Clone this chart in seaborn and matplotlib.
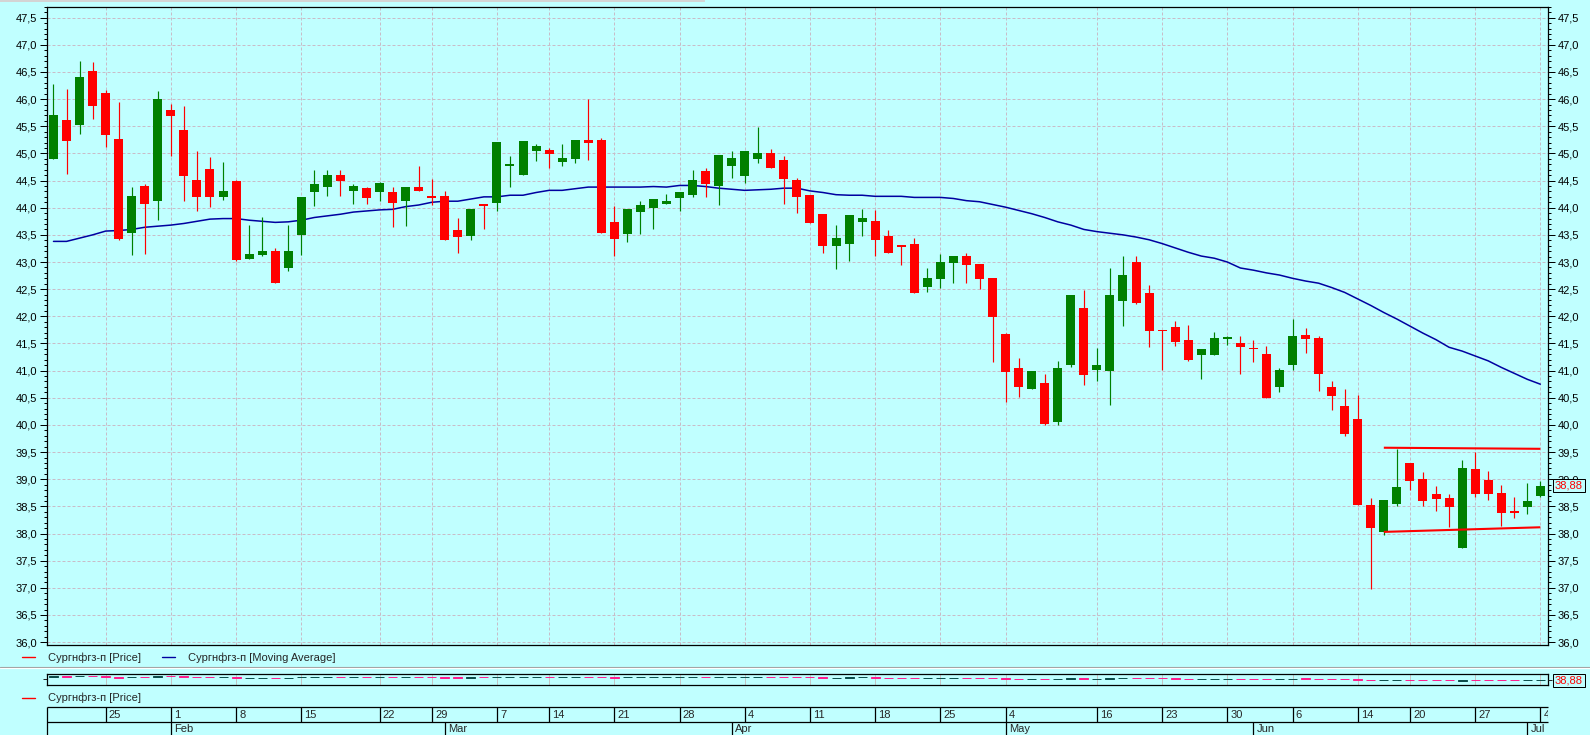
import matplotlib
matplotlib.use("Agg")

import matplotlib.pyplot as plt
from matplotlib.lines import Line2D
from matplotlib.patches import Rectangle
from matplotlib.ticker import MultipleLocator, FuncFormatter
from matplotlib.transforms import blended_transform_factory
import numpy as np
import pandas as pd
import seaborn as sns

# --- daily candles (trading-day index 0..114, 19 Jan .. 4 Jul) ---
OPEN = [44.90, 45.62, 45.53, 46.52, 46.11, 45.27, 43.54, 44.40, 44.12, 45.80,
        45.43, 44.51, 44.71, 44.20, 44.49, 43.06, 43.13, 43.20, 42.89, 43.50,
        44.29, 44.38, 44.60, 44.31, 44.36, 44.29, 44.29, 44.12, 44.38, 44.22,
        44.22, 43.59, 43.48, 44.07, 44.09, 44.77, 44.60, 45.04, 45.06, 44.84,
        44.90, 45.25, 45.25, 43.74, 43.52, 43.92, 43.99, 44.07, 44.18, 44.23,
        44.68, 44.40, 44.77, 44.58, 44.90, 45.01, 44.88, 44.51, 44.23, 43.88,
        43.30, 43.33, 43.74, 43.76, 43.48, 43.31, 43.33, 42.54, 42.69, 42.98,
        43.11, 42.96, 42.71, 41.67, 41.05, 40.66, 40.77, 40.05, 41.10, 42.15,
        41.01, 40.99, 42.28, 43.00, 42.43, 41.75, 41.80, 41.56, 41.29, 41.29,
        41.59, 41.51, 41.42, 41.31, 40.69, 41.11, 41.66, 41.60, 40.70, 40.35,
        40.11, 38.53, 38.02, 38.54, 39.30, 39.00, 38.73, 38.65, 37.73, 39.19,
        38.99, 38.75, 38.41, 38.49, 38.69]
HIGH = [46.28, 46.18, 46.70, 46.68, 46.17, 45.95, 44.38, 44.44, 46.15, 45.91,
        45.87, 45.04, 44.93, 44.84, 44.51, 43.68, 43.83, 43.26, 43.68, 44.20,
        44.69, 44.69, 44.69, 44.44, 44.38, 44.47, 44.38, 44.38, 44.77, 44.53,
        44.31, 43.81, 43.98, 44.07, 45.21, 44.95, 45.23, 45.17, 45.10, 45.17,
        45.25, 46.00, 45.28, 44.03, 43.98, 44.12, 44.16, 44.25, 44.29, 44.69,
        44.73, 44.97, 45.04, 45.04, 45.49, 45.08, 44.95, 44.55, 44.23, 43.88,
        43.68, 43.87, 43.98, 43.96, 43.59, 43.31, 43.44, 42.89, 43.15, 43.11,
        43.17, 42.96, 42.71, 41.69, 41.23, 40.99, 40.94, 41.18, 42.39, 42.48,
        41.42, 42.89, 43.11, 43.11, 42.58, 41.75, 41.91, 41.84, 41.40, 41.71,
        41.64, 41.64, 41.56, 41.45, 41.04, 41.95, 41.79, 41.64, 40.81, 40.66,
        40.55, 38.65, 38.61, 39.56, 39.30, 39.13, 38.88, 38.73, 39.35, 39.50,
        39.15, 38.89, 38.67, 38.93, 38.97]
LOW = [44.90, 44.63, 45.35, 45.64, 45.12, 43.41, 43.13, 43.15, 43.77, 44.95,
       44.12, 43.94, 44.01, 44.14, 43.02, 43.06, 43.11, 42.61, 42.83, 43.13,
       44.03, 44.22, 44.22, 44.07, 44.07, 44.12, 43.65, 43.66, 44.31, 44.05,
       43.41, 43.17, 43.41, 43.61, 43.94, 44.38, 44.60, 44.86, 44.73, 44.77,
       44.82, 44.88, 43.53, 43.11, 43.37, 43.52, 43.61, 44.07, 43.94, 44.20,
       44.20, 44.05, 44.55, 44.46, 44.82, 44.73, 44.07, 43.90, 43.72, 43.17,
       42.87, 43.02, 43.48, 43.11, 43.17, 42.95, 42.43, 42.45, 42.52, 42.61,
       42.61, 42.50, 41.16, 40.42, 40.51, 40.66, 40.00, 40.00, 41.07, 40.74,
       40.81, 40.37, 41.82, 42.23, 41.44, 41.02, 41.46, 41.18, 40.85, 41.29,
       41.48, 40.94, 41.15, 40.50, 40.61, 41.02, 41.33, 40.63, 40.28, 39.80,
       38.53, 36.98, 37.98, 38.51, 38.80, 38.51, 38.41, 38.12, 37.73, 38.67,
       38.62, 38.14, 38.29, 38.36, 38.67]
CLOSE = [45.71, 45.22, 46.41, 45.88, 45.34, 43.42, 44.22, 44.07, 46.00, 45.69,
         44.58, 44.20, 44.20, 44.31, 43.04, 43.15, 43.20, 42.61, 43.20, 44.20,
         44.44, 44.60, 44.49, 44.40, 44.18, 44.46, 44.09, 44.38, 44.31, 44.18,
         43.41, 43.46, 43.98, 44.03, 45.21, 44.81, 45.23, 45.14, 44.99, 44.92,
         45.25, 45.19, 43.53, 43.42, 43.98, 44.05, 44.16, 44.12, 44.29, 44.51,
         44.44, 44.97, 44.92, 45.04, 45.01, 44.73, 44.53, 44.20, 43.72, 43.30,
         43.44, 43.87, 43.81, 43.41, 43.17, 43.28, 42.43, 42.71, 43.00, 43.11,
         42.95, 42.69, 41.99, 40.97, 40.70, 40.99, 40.02, 41.05, 42.39, 40.92,
         41.10, 42.39, 42.76, 42.25, 41.73, 41.73, 41.53, 41.20, 41.40, 41.60,
         41.62, 41.44, 41.39, 40.50, 41.01, 41.64, 41.59, 40.94, 40.54, 39.84,
         38.53, 38.10, 38.61, 38.86, 38.97, 38.59, 38.64, 38.49, 39.21, 38.73,
         38.73, 38.38, 38.38, 38.60, 38.88]
MOVING_AVG = [43.38, 43.38, 43.44, 43.50, 43.57, 43.58, 43.60, 43.64, 43.66, 43.68,
              43.71, 43.75, 43.79, 43.80, 43.80, 43.77, 43.75, 43.73, 43.74, 43.77,
              43.82, 43.85, 43.88, 43.92, 43.94, 43.96, 43.97, 44.02, 44.05, 44.10,
              44.12, 44.12, 44.16, 44.20, 44.20, 44.23, 44.23, 44.28, 44.32, 44.32,
              44.35, 44.38, 44.38, 44.38, 44.38, 44.38, 44.39, 44.38, 44.41, 44.41,
              44.39, 44.36, 44.34, 44.32, 44.33, 44.34, 44.36, 44.36, 44.31, 44.28,
              44.24, 44.23, 44.23, 44.21, 44.21, 44.21, 44.19, 44.19, 44.19, 44.17,
              44.13, 44.11, 44.06, 44.01, 43.95, 43.89, 43.82, 43.74, 43.68, 43.60,
              43.56, 43.53, 43.50, 43.46, 43.41, 43.34, 43.26, 43.18, 43.11, 43.07,
              43.00, 42.89, 42.85, 42.80, 42.76, 42.70, 42.65, 42.61, 42.53, 42.44,
              42.32, 42.20, 42.07, 41.95, 41.82, 41.69, 41.57, 41.43, 41.36, 41.27,
              41.18, 41.06, 40.95, 40.84, 40.75]

# trend lines drawn on the last weeks
RES_X = [102, 114]
RES_Y = [39.58, 39.56]
SUP_X = [102, 114]
SUP_Y = [38.03, 38.115]
LAST_PRICE = 38.88

# date scale
WEEK_IDX = [4, 9, 14, 19, 25, 29, 34, 38, 43, 48, 53, 58, 63, 68, 73, 80, 85,
            90, 95, 100, 104, 109, 114]
WEEK_LBL = ["25", "1", "8", "15", "22", "29", "7", "14", "21", "28", "4", "11",
            "18", "25", "4", "16", "23", "30", "6", "14", "20", "27", "4"]
MONTH_IDX = [9, 30, 52, 73, 92, 113]
MONTH_LBL = ["Feb", "Mar", "Apr", "May", "Jun", "Jul"]

SERIES = "Сургнфгз-п"

BG = "#c0ffff"
UP = "#008000"
DOWN = "#ff0000"
MA_C = "#0000a0"
GRID = "#c8bcc8"
MINI_UP = "#0b4a48"
MINI_DOWN = "#ff1a8c"

sns.set_style("ticks")
plt.rcParams["font.family"] = ["Liberation Sans", "DejaVu Sans"]
plt.rcParams["font.size"] = 8

df = pd.DataFrame({"o": OPEN, "h": HIGH, "l": LOW, "c": CLOSE, "ma": MOVING_AVG})
df["idx"] = np.arange(len(df))
df["up"] = df.c >= df.o
df["lo"] = df[["o", "c"]].min(axis=1)
df["body"] = np.maximum((df.c - df.o).abs(), 0.02)

W, H = 1590, 735
L_PX, R_PX = 46.7, 1548.3
XLIM = (-0.52, 114.61)


def fx(px):
    return px / W


def fy(py):
    return 1 - py / H


fig = plt.figure(figsize=(W / 100, H / 100), dpi=100, facecolor=BG)

# ---- main price panel ----
ax = fig.add_axes([fx(L_PX), fy(645), fx(R_PX - L_PX), (645 - 6.7) / H])
ax.set_facecolor(BG)
ax.set_xlim(*XLIM)
ax.set_ylim(35.947, 47.702)

sns.lineplot(data=df, x="idx", y="ma", ax=ax, color=MA_C, lw=1.1, zorder=2)
cols = np.where(df.up, UP, DOWN)
ax.vlines(df.idx, df.l, df.h, colors=cols, lw=0.85, zorder=3)
ax.bar(df.idx, df.body, bottom=df.lo, width=0.69, color=cols, lw=0, zorder=4)
ax.plot(RES_X, RES_Y, color=DOWN, lw=1.5, zorder=5, solid_capstyle="butt")
ax.plot(SUP_X, SUP_Y, color=DOWN, lw=1.5, zorder=5, solid_capstyle="butt")

ax.set_xlabel("")
ax.set_ylabel("")
ax.set_xticks(WEEK_IDX)
ax.tick_params(axis="x", which="both", bottom=False, labelbottom=False)
ax.yaxis.set_major_locator(MultipleLocator(0.5))
ax.yaxis.set_minor_locator(MultipleLocator(0.1))
ax.yaxis.set_major_formatter(FuncFormatter(lambda v, p: f"{v:.1f}".replace(".", ",")))
ax.tick_params(axis="y", which="both", left=True, right=True, labelleft=True,
               labelright=True, direction="out", width=0.72, colors="black",
               labelsize=8)
ax.tick_params(axis="y", which="major", length=5, pad=1.6)
ax.tick_params(axis="y", which="minor", length=2.5)
ax.set_axisbelow(True)
ax.grid(True, which="major", color=GRID, ls=(0, (3, 2)), lw=0.72)
for sp in ax.spines.values():
    sp.set_visible(True)
    sp.set_color("black")
    sp.set_linewidth(0.9)

box = dict(boxstyle="square,pad=0.15", fc=BG, ec="black", lw=0.72)
tr = blended_transform_factory(ax.transAxes, ax.transData)
ax.text(1.0045, LAST_PRICE, "38,88", transform=tr, ha="left", va="center",
        color=DOWN, fontsize=8, bbox=box, clip_on=False, zorder=10)

# ---- mini overview panel ----
mx = fig.add_axes([fx(L_PX), fy(685.3), fx(R_PX - L_PX), 11 / H])
mx.set_facecolor(BG)
mx.set_xlim(*XLIM)
mx.set_ylim(29.1, 49.4)
mcols = np.where(df.up, MINI_UP, MINI_DOWN)
mx.bar(df.idx, df.body, bottom=df.lo, width=0.69, color=mcols,
       edgecolor=mcols, lw=0.7, zorder=3)
mx.set_xticks(WEEK_IDX)
mx.tick_params(axis="x", bottom=False, labelbottom=False)
mx.set_yticks([41.3])
mx.tick_params(axis="y", left=True, labelleft=False, length=3, width=0.72)
mx.grid(True, axis="x", color="#c4c4c4", lw=0.72, ls="-")
mx.set_axisbelow(True)
for sp in mx.spines.values():
    sp.set_visible(True)
    sp.set_color("black")
    sp.set_linewidth(0.9)
tw = mx.twinx()
tw.set_ylim(mx.get_ylim())
tw.set_yticks([LAST_PRICE])
tw.tick_params(axis="y", right=True, labelright=False, length=3, width=0.72)
tw.spines[:].set_visible(False)
trm = blended_transform_factory(mx.transAxes, mx.transData)
mx.text(1.0045, LAST_PRICE - 0.9, "38,88", transform=trm, ha="left", va="center",
        color=DOWN, fontsize=8, bbox=box, clip_on=False, zorder=10)

# ---- date scale ----
dax = fig.add_axes([fx(L_PX), 0, fx(R_PX - L_PX), (H - 707.3) / H])
dax.set_xlim(*XLIM)
dax.set_ylim(27.7, 0)
dax.axis("off")
dax.hlines([0, 15], XLIM[0], XLIM[1], colors="black", lw=0.9, clip_on=False)
dax.vlines([XLIM[0]], 0, 27.7, colors="black", lw=0.9, clip_on=False)
dax.vlines(WEEK_IDX, 0, 15, colors="black", lw=0.9)
dax.vlines(MONTH_IDX, 15, 27.7, colors="black", lw=0.9)
for i, lbl in zip(WEEK_IDX, WEEK_LBL):
    dax.text(i + 0.25, 7.7, lbl, ha="left", va="center", fontsize=8, clip_on=True)
for i, lbl in zip(MONTH_IDX, MONTH_LBL):
    dax.text(i + 0.25, 22.2, lbl, ha="left", va="center", fontsize=8, clip_on=True)

# ---- legends and separators ----
def legend_entry(x_px, y_px, color, label):
    fig.add_artist(Line2D([fx(x_px), fx(x_px + 13.3)], [fy(y_px)] * 2,
                          color=color, lw=1.0))
    fig.text(fx(x_px + 26), fy(y_px), label, ha="left", va="center", fontsize=8)


legend_entry(21.7, 657.3, DOWN, f"{SERIES} [Price]")
legend_entry(162, 657.3, MA_C, f"{SERIES} [Moving Average]")
legend_entry(21.7, 697.7, DOWN, f"{SERIES} [Price]")

fig.add_artist(Line2D([0, 1], [fy(666.5)] * 2, color="#a0a0a0", lw=0.8))
fig.add_artist(Line2D([0, 1], [fy(667.6)] * 2, color="white", lw=0.8))
fig.add_artist(Rectangle((0, fy(2)), fx(705), 2 / H, color="#d4d4d4", lw=0))

fig.savefig("out.png", dpi=100, facecolor=BG)
plt.close(fig)
